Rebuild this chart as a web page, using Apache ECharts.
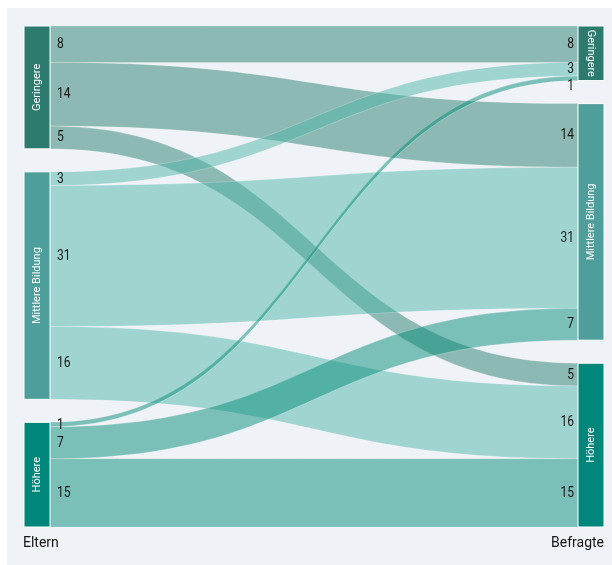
<!DOCTYPE html>
<html>
<head>
<meta charset="utf-8">
<script src="https://cdn.jsdelivr.net/npm/echarts@6/dist/echarts.min.js"></script>
<style>
  html, body { margin: 0; padding: 0; background: #ffffff; }
  #main { width: 612px; height: 565px; }
</style>
</head>
<body>
<div id="main"></div>
<script>
// Education levels (same for both columns)
const levels = ['Geringere', 'Mittlere Bildung', 'Höhere'];
const leftTitle = 'Eltern';
const rightTitle = 'Befragte';

// Flows from each parental level to the respondents' levels (Geringere, Mittlere, Höhere)
const fromGeringere = [8, 14, 5];
const fromMittlere = [3, 31, 16];
const fromHoehere = [1, 7, 15];

const nodeColors = ['#2c7b6e', '#4e9e9b', '#00867a'];
const linkColors = ['#29806f', '#4fb6a9', '#058c79'];

const flows = [fromGeringere, fromMittlere, fromHoehere];

const nodes = [];
levels.forEach((lv, i) => {
  nodes.push({ name: 'E:' + lv, level: lv, itemStyle: { color: nodeColors[i] } });
});
levels.forEach((lv, i) => {
  const n = { name: 'B:' + lv, level: lv, itemStyle: { color: nodeColors[i] } };
  if (i === 0) n.label = { rotate: -90 };
  nodes.push(n);
});

const links = [];
flows.forEach((row, s) => {
  row.forEach((v, t) => {
    links.push({
      source: 'E:' + levels[s],
      target: 'B:' + levels[t],
      value: v,
      lineStyle: { color: linkColors[s] }
    });
  });
});

const chart = echarts.init(document.getElementById('main'));
chart.setOption({
  animation: false,
  backgroundColor: '#ffffff',
  series: [{
    type: 'sankey',
    left: 24, right: 8, top: 26, bottom: 38,
    nodeWidth: 26,
    nodeGap: 23,
    layoutIterations: 0,
    draggable: false,
    emphasis: { disabled: true },
    data: nodes,
    links: links,
    itemStyle: { borderColor: '#ffffff', borderWidth: 1 },
    lineStyle: { opacity: 0.5, curveness: 0.5, borderColor: 'rgba(255,255,255,0.9)', borderWidth: 0.5 },
    label: {
      position: 'inside',
      rotate: 90,
      color: '#ffffff',
      fontFamily: 'Roboto',
      fontSize: 11,
      formatter: p => p.data.level
    }
  }]
});

// Value labels at both ends of every flow, placed from the computed sankey layout
const valueFont = '14px Roboto, sans-serif';
const graphics = [{
  id: 'panel', type: 'rect', z: -10, silent: true,
  shape: { x: 7, y: 8, width: 605, height: 557 },
  style: { fill: '#eff2f7' }
}];

const series = chart.getModel().getSeriesByIndex(0);
const graph = series.getGraph();
const rect = series.layoutInfo;
const leftLabels = [], rightLabels = [];
graph.eachEdge(e => {
  const l = e.getLayout();
  const n1 = e.node1.getLayout();
  const n2 = e.node2.getLayout();
  const v = e.getValue();
  leftLabels.push({ x: rect.x + n1.x + n1.dx + 7, y: rect.y + n1.y + l.sy + l.dy / 2, v });
  rightLabels.push({ x: rect.x + n2.x - 4, y: rect.y + n2.y + l.ty + l.dy / 2, v });
});

function spread(list, gap) {
  list.sort((a, b) => a.y - b.y);
  for (let i = 1; i < list.length; i++) {
    if (list[i].y - list[i - 1].y < gap) list[i].y = list[i - 1].y + gap;
  }
}
spread(leftLabels, 16);
spread(rightLabels, 17);

// narrow digits: horizontal squeeze around the anchor point
function valueText(id, d, align) {
  return {
    id, type: 'text', z: 20, silent: true,
    x: d.x, y: d.y + 0.5, scaleX: 0.86,
    style: { x: 0, y: 0, text: String(d.v), font: valueFont, fill: '#161616', textAlign: align, textVerticalAlign: 'middle' }
  };
}
leftLabels.forEach((d, i) => graphics.push(valueText('l' + i, d, 'left')));
rightLabels.forEach((d, i) => graphics.push(valueText('r' + i, d, 'right')));

graphics.push({
  id: 'tl', type: 'text', z: 20, silent: true,
  style: { x: 23, y: 543, text: leftTitle, font: '14px Roboto, sans-serif', fill: '#151515', textAlign: 'left', textVerticalAlign: 'middle' }
});
graphics.push({
  id: 'tr', type: 'text', z: 20, silent: true,
  style: { x: 604, y: 543, text: rightTitle, font: '14px Roboto, sans-serif', fill: '#151515', textAlign: 'right', textVerticalAlign: 'middle' }
});

chart.setOption({ graphic: graphics });
</script>
</body>
</html>
